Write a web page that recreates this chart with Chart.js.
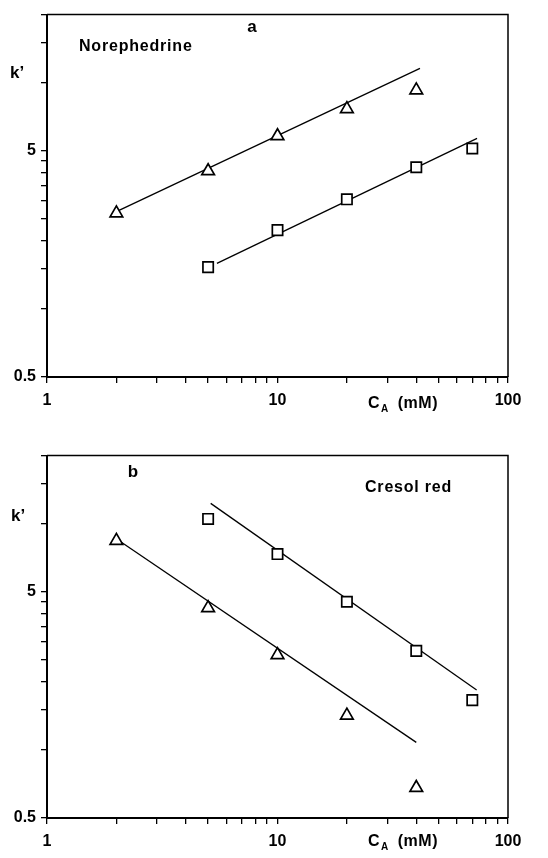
<!DOCTYPE html>
<html>
<head>
<meta charset="utf-8">
<script src="https://cdn.jsdelivr.net/npm/chart.js@4.4.1/dist/chart.umd.min.js"></script>
<style>
body { margin: 0; background: #fff; }
.panel { position: absolute; left: 0; width: 548px; height: 430px; }
</style>
</head>
<body>
<div class="panel" style="top:0px"><canvas id="chartA"></canvas></div>
<div class="panel" style="top:441px"><canvas id="chartB"></canvas></div>
<script>
//1) DATA//
// C_A (mM) for each series
var concTri = [2, 5, 10, 20, 40]
var concSq = [5, 10, 20, 40, 70]

// panel a - Norephedrine
var triA = [2.65, 4.07, 5.81, 7.66, 9.27]
var sqA = [1.53, 2.23, 3.05, 4.23, 5.12]
var fitTriAx = [2, 41.5]
var fitTriAy = [2.69, 11.56]
var fitSqAx = [5.46, 73.4]
var fitSqAy = [1.59, 5.67]

// panel b - Cresol red
var triB = [8.41, 4.24, 2.63, 1.42, 0.68]
var sqB = [10.5, 7.34, 4.52, 2.74, 1.66]
var fitTriBx = [2.11, 40]
var fitTriBy = [8.26, 1.08]
var fitSqBx = [5.13, 73.1]
var fitSqBy = [12.3, 1.84]

// axes
var xTicks = [1, 2, 3, 4, 5, 6, 7, 8, 9, 10, 20, 30, 40, 50, 60, 70, 80, 90, 100]
var xLabels = [1, 10, 100]
var yTicks = [0.5, 1, 1.5, 2, 2.5, 3, 3.5, 4, 4.5, 5, 10, 15, 20]
var yLabels = [0.5, 5]

var FONT = "'Liberation Sans', Arial, Helvetica, sans-serif"

function pts(xs, ys) {
   return xs.map((x, i) => ({ x: x, y: ys[i] }))
}

//2) PLUGINS//
// top + right edge of the frame
var frame = {
   id: 'frame',
   afterDraw(chart) {
      const a = chart.chartArea
      const ctx = chart.ctx
      ctx.save()
      ctx.strokeStyle = '#000'
      ctx.lineWidth = 1.5
      ctx.beginPath()
      ctx.moveTo(a.left, a.top)
      ctx.lineTo(a.right, a.top)
      ctx.lineTo(a.right, a.bottom)
      ctx.stroke()
      ctx.restore()
   }
}

function notes(items) {
   return {
      id: 'notes',
      afterDraw(chart) {
         const ctx = chart.ctx
         ctx.save()
         ctx.fillStyle = '#000'
         ctx.textBaseline = 'middle'
         items.forEach(t => {
            ctx.font = 'bold ' + t.size + 'px ' + FONT
            ctx.letterSpacing = (t.spacing || 0) + 'px'
            ctx.textAlign = t.align || 'left'
            if (t.sub) {
               // C with subscript A, then (mM)
               ctx.fillText(t.text, t.x, t.y)
               let w = ctx.measureText(t.text).width
               ctx.font = 'bold 10px ' + FONT
               ctx.fillText(t.sub, t.x + w + 1, t.y + 5)
               let w2 = ctx.measureText(t.sub).width
               ctx.font = 'bold ' + t.size + 'px ' + FONT
               ctx.fillText(t.rest, t.x + w + w2 + 10, t.y)
            } else {
               ctx.fillText(t.text, t.x, t.y)
            }
         })
         ctx.restore()
      }
   }
}

//3) CHARTS//
function makeChart(id, tri, sq, fitTx, fitTy, fitSx, fitSy, items) {
   return new Chart(document.getElementById(id), {
      type: 'scatter',
      data: {
         datasets: [{
            data: pts(concTri, tri),
            pointStyle: 'triangle',
            pointRadius: 7.3,
            borderColor: '#000',
            backgroundColor: '#fff',
            borderWidth: 1.7,
            order: 0
         }, {
            data: pts(concSq, sq),
            pointStyle: 'rect',
            pointRadius: 7.3,
            borderColor: '#000',
            backgroundColor: '#fff',
            borderWidth: 1.7,
            order: 0
         }, {
            data: pts(fitTx, fitTy),
            showLine: true,
            pointRadius: 0,
            borderColor: '#000',
            borderWidth: 1.3,
            order: 1
         }, {
            data: pts(fitSx, fitSy),
            showLine: true,
            pointRadius: 0,
            borderColor: '#000',
            borderWidth: 1.3,
            order: 1
         }]
      },
      options: {
         responsive: true,
         maintainAspectRatio: false,
         animation: false,
         layout: { padding: { top: 14, right: 40, left: 0, bottom: 0 } },
         plugins: {
            legend: { display: false },
            tooltip: { enabled: false }
         },
         scales: {
            x: {
               type: 'logarithmic',
               min: 1,
               max: 100,
               bounds: 'data',
               afterBuildTicks: s => { s.ticks = xTicks.map(v => ({ value: v })) },
               afterFit: s => { s.height = 53 },
               grid: { drawOnChartArea: false, tickLength: 6, color: '#000', lineWidth: 1.3 },
               border: { color: '#000', width: 2 },
               ticks: {
                  autoSkip: false,
                  maxRotation: 0,
                  padding: 8,
                  color: '#000',
                  font: { family: FONT, size: 16, weight: 'bold' },
                  callback: v => xLabels.includes(v) ? String(v) : ''
               }
            },
            y: {
               type: 'logarithmic',
               min: 0.5,
               max: 20,
               bounds: 'data',
               afterBuildTicks: s => { s.ticks = yTicks.map(v => ({ value: v })) },
               afterFit: s => { s.width = 47 },
               grid: { drawOnChartArea: false, tickLength: 6, color: '#000', lineWidth: 1.3 },
               border: { color: '#000', width: 2 },
               ticks: {
                  autoSkip: false,
                  padding: 5,
                  color: '#000',
                  font: { family: FONT, size: 16, weight: 'bold' },
                  callback: v => yLabels.includes(v) ? String(v) : ''
               }
            }
         }
      },
      plugins: [frame, notes(items)]
   })
}

var chartA = makeChart('chartA', triA, sqA, fitTriAx, fitTriAy, fitSqAx, fitSqAy, [
   { text: 'a', x: 252, y: 27, size: 17, align: 'center' },
   { text: 'Norephedrine', x: 79, y: 47, size: 16, spacing: 0.8 },
   { text: 'k\u2019', x: 10, y: 73, size: 17 },
   { text: 'C', sub: 'A', rest: '(mM)', x: 368, y: 404, size: 16, spacing: 0.5 }
])

var chartB = makeChart('chartB', triB, sqB, fitTriBx, fitTriBy, fitSqBx, fitSqBy, [
   { text: 'b', x: 133, y: 31, size: 17, align: 'center' },
   { text: 'Cresol red', x: 365, y: 47, size: 16, spacing: 0.8 },
   { text: 'k\u2019', x: 11, y: 75, size: 17 },
   { text: 'C', sub: 'A', rest: '(mM)', x: 368, y: 401, size: 16, spacing: 0.5 }
])
</script>
</body>
</html>
